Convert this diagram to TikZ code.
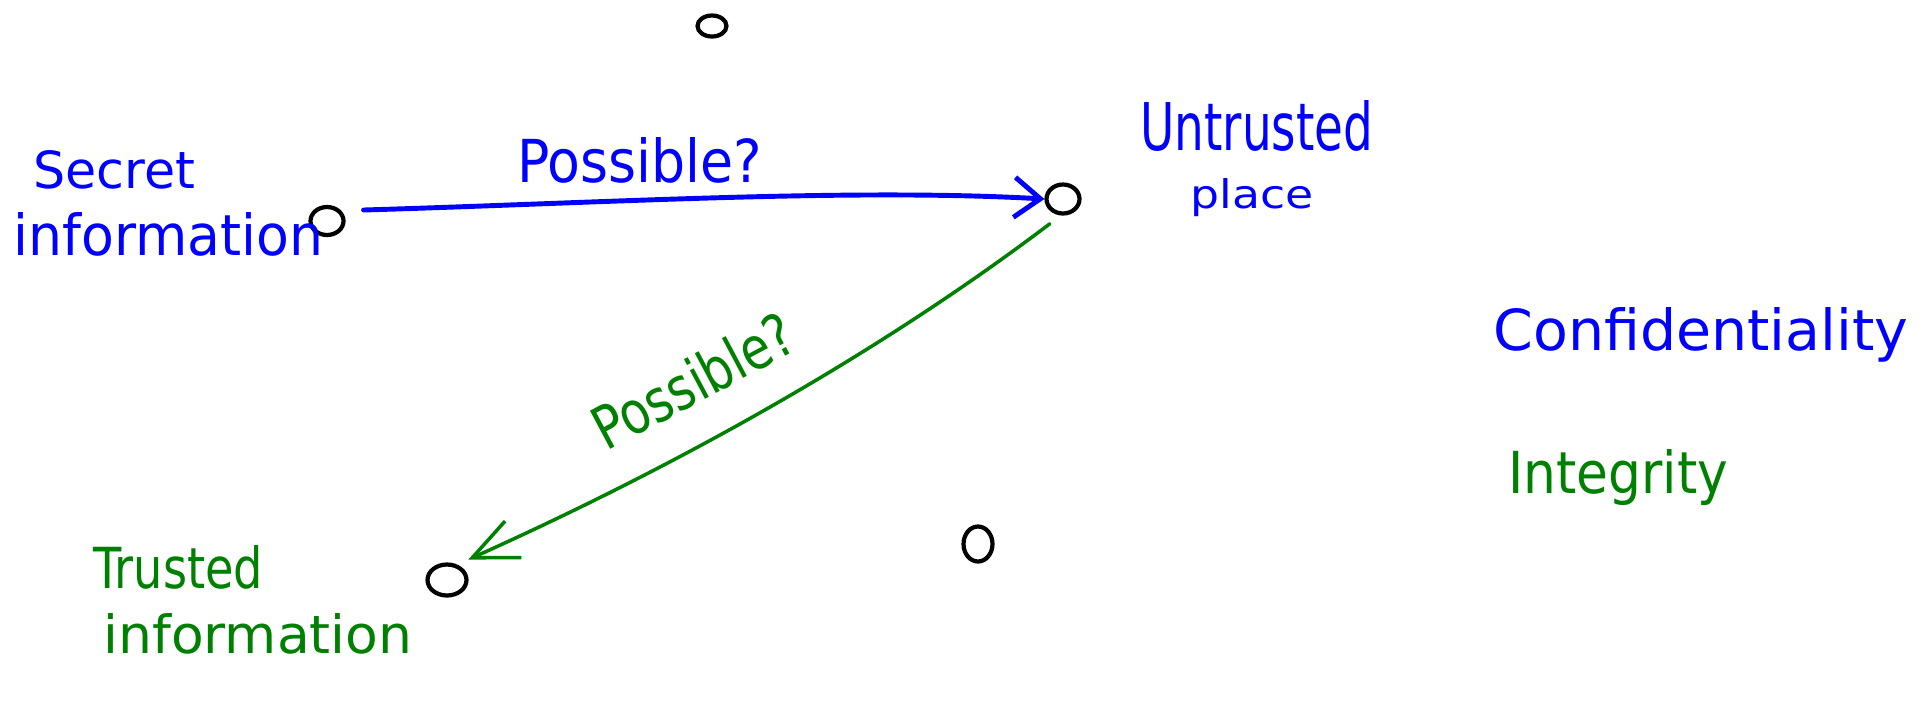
\documentclass[tikz,border=0pt]{standalone}
\usepackage{fontspec}
\setmainfont{DejaVu Sans}
\usepackage{graphicx}
\usetikzlibrary{arrows.meta,shapes.geometric}
\definecolor{inkblue}{RGB}{0,0,255}
\definecolor{inkgreen}{RGB}{0,128,0}
% handwritten word, stretched to width and height (cm)
\newcommand{\handword}[3]{\resizebox{#1cm}{#2cm}{#3}}
\tikzset{
  spot/.style={ellipse, draw=black, line width=2.4pt, inner sep=0pt},
  bluetext/.style={anchor=base west, inner sep=0pt, text=inkblue},
  greentext/.style={anchor=base west, inner sep=0pt, text=inkgreen},
  secretflow/.style={draw=inkblue, line width=2.8pt, line cap=round,
    -{Straight Barb[length=5.2mm, width=8mm]}},
  trustflow/.style={draw=inkgreen, line width=2pt, line cap=round,
    -{Straight Barb[length=9mm, width=8mm]}}
}

\begin{document}
\begin{tikzpicture}[x=0.02cm, y=-0.02cm]
  \useasboundingbox (0,0) rectangle (1921,701);

  % --- places ---
  \node[spot, minimum width=0.58cm, minimum height=0.42cm] (topspot) at (712,26) {};
  \node[spot, minimum width=0.66cm, minimum height=0.56cm] (secret) at (327,221) {};
  \node[spot, minimum width=0.66cm, minimum height=0.58cm] (untrusted) at (1063,199) {};
  \node[spot, minimum width=0.78cm, minimum height=0.62cm] (trusted) at (447,580) {};
  \node[spot, minimum width=0.58cm, minimum height=0.70cm] (lowspot) at (978,544) {};

  % --- words ---
  \node[bluetext] (secretA) at (33,188) {\handword{3.24}{0.76}{Secret}};
  \node[bluetext] (secretB) at (13,255) {\handword{6.2}{0.86}{information}};
  \node[bluetext] (untrustA) at (1140,150) {\handword{4.66}{1.0}{Untrusted}};
  \node[bluetext] (untrustB) at (1190,208) {\handword{2.46}{0.6}{place}};
  \node[greentext] (trustA) at (93,588) {\handword{3.4}{0.86}{Trusted}};
  \node[greentext] (trustB) at (103,653) {\handword{6.18}{0.8}{information}};
  \node[bluetext] (confid) at (1493,350) {\handword{8.3}{0.86}{Confidentiality}};
  \node[greentext] (integ) at (1508,493) {\handword{4.4}{0.88}{Integrity}};

  % --- flows ---
  \draw[secretflow] ([xshift=0.36cm, yshift=0.22cm]secret.east)
        .. controls (600,203) and (850,188) .. (untrusted.west);
  \draw[trustflow] ([yshift=-0.26cm]untrusted.south west)
        .. controls (874,357) and (670,469) .. ([xshift=0.12cm, yshift=0.16cm]trusted.north east);
  \node[bluetext] (askA) at (517,182) {\handword{4.9}{0.9}{Possible?}};
  \node[greentext, rotate=28] (askB) at (606,452) {\handword{4.4}{0.9}{Possible?}};

\end{tikzpicture}
\end{document}
